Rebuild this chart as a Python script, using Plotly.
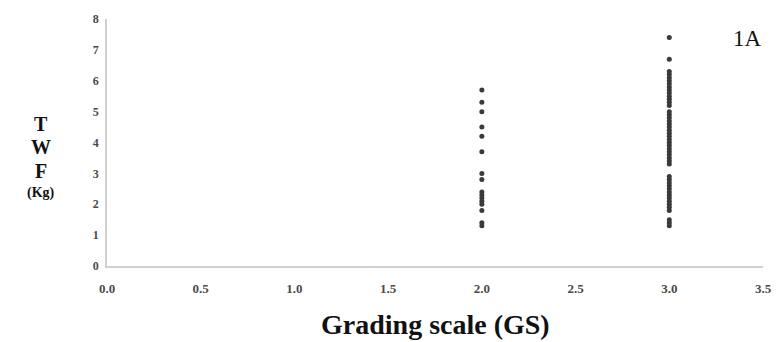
import plotly.graph_objects as go

# Data
gs2_x = [2.0] * 16
gs2_y = [5.7, 5.3, 5.0, 4.5, 4.2, 3.7, 3.0, 2.8, 2.4, 2.3, 2.2, 2.1, 2.0, 1.8, 1.4, 1.3]

gs3_y = [7.4, 6.7, 6.3, 6.2, 6.1, 6.0, 5.9, 5.8, 5.7, 5.6, 5.5, 5.4, 5.3, 5.2,
         5.0, 4.9, 4.8, 4.7, 4.6, 4.5, 4.4, 4.3, 4.2, 4.1, 4.0, 3.9, 3.8, 3.7,
         3.6, 3.5, 3.4, 3.3, 2.9, 2.8, 2.7, 2.6, 2.5, 2.4, 2.3, 2.2, 2.1, 2.0,
         1.9, 1.8, 1.5, 1.4, 1.3]
gs3_x = [3.0] * len(gs3_y)

x_ticks = [0.0, 0.5, 1.0, 1.5, 2.0, 2.5, 3.0, 3.5]
y_ticks = [0, 1, 2, 3, 4, 5, 6, 7, 8]

serif = "Liberation Serif"

fig = go.Figure()
fig.add_trace(go.Scatter(
    x=gs2_x + gs3_x, y=gs2_y + gs3_y, mode="markers",
    marker=dict(size=5, color="#3a3a3a"),
    showlegend=False, hoverinfo="skip",
))

fig.update_layout(
    width=782, height=342,
    margin=dict(l=107, r=10, t=19, b=76),
    paper_bgcolor="white", plot_bgcolor="white",
    font=dict(family=serif, color="#333333"),
    xaxis=dict(
        range=[0, 3.5], tickvals=x_ticks, ticktext=[f"<b>{v:.1f}</b>" for v in x_ticks],
        showgrid=False, zeroline=False, showline=True, linecolor="#d0d0d0",
        linewidth=1.5, ticks="", ticklabelstandoff=10,
        tickfont=dict(family=serif, size=13, color="#4a4a4a"),
    ),
    yaxis=dict(
        range=[0, 8], tickvals=y_ticks, ticktext=[f"<b>{v}</b>" for v in y_ticks],
        showgrid=False, zeroline=False, showline=True, linecolor="#d0d0d0",
        linewidth=1.5, ticks="", ticklabelstandoff=4,
        tickfont=dict(family=serif, size=12, color="#4a4a4a"),
    ),
    annotations=[
        dict(text="<b>Grading scale (GS)</b>", xref="paper", yref="paper",
             x=0.5, y=-0.165, xanchor="center", yanchor="top", showarrow=False,
             font=dict(family=serif, size=28, color="#111111")),
        dict(text="<b>T</b>", xref="paper", yref="paper", x=-0.1, y=0.575,
             xanchor="center", yanchor="middle", showarrow=False,
             font=dict(family=serif, size=20, color="#111111")),
        dict(text="<b>W</b>", xref="paper", yref="paper", x=-0.1, y=0.48,
             xanchor="center", yanchor="middle", showarrow=False,
             font=dict(family=serif, size=20, color="#111111")),
        dict(text="<b>F</b>", xref="paper", yref="paper", x=-0.1, y=0.385,
             xanchor="center", yanchor="middle", showarrow=False,
             font=dict(family=serif, size=20, color="#111111")),
        dict(text="<b>(Kg)</b>", xref="paper", yref="paper", x=-0.1, y=0.295,
             xanchor="center", yanchor="middle", showarrow=False,
             font=dict(family=serif, size=14, color="#111111")),
        dict(text="1A", xref="paper", yref="paper", x=0.977, y=0.92,
             xanchor="center", yanchor="middle", showarrow=False,
             font=dict(family=serif, size=23, color="#111111")),
    ],
)

fig.write_html("out.html")
